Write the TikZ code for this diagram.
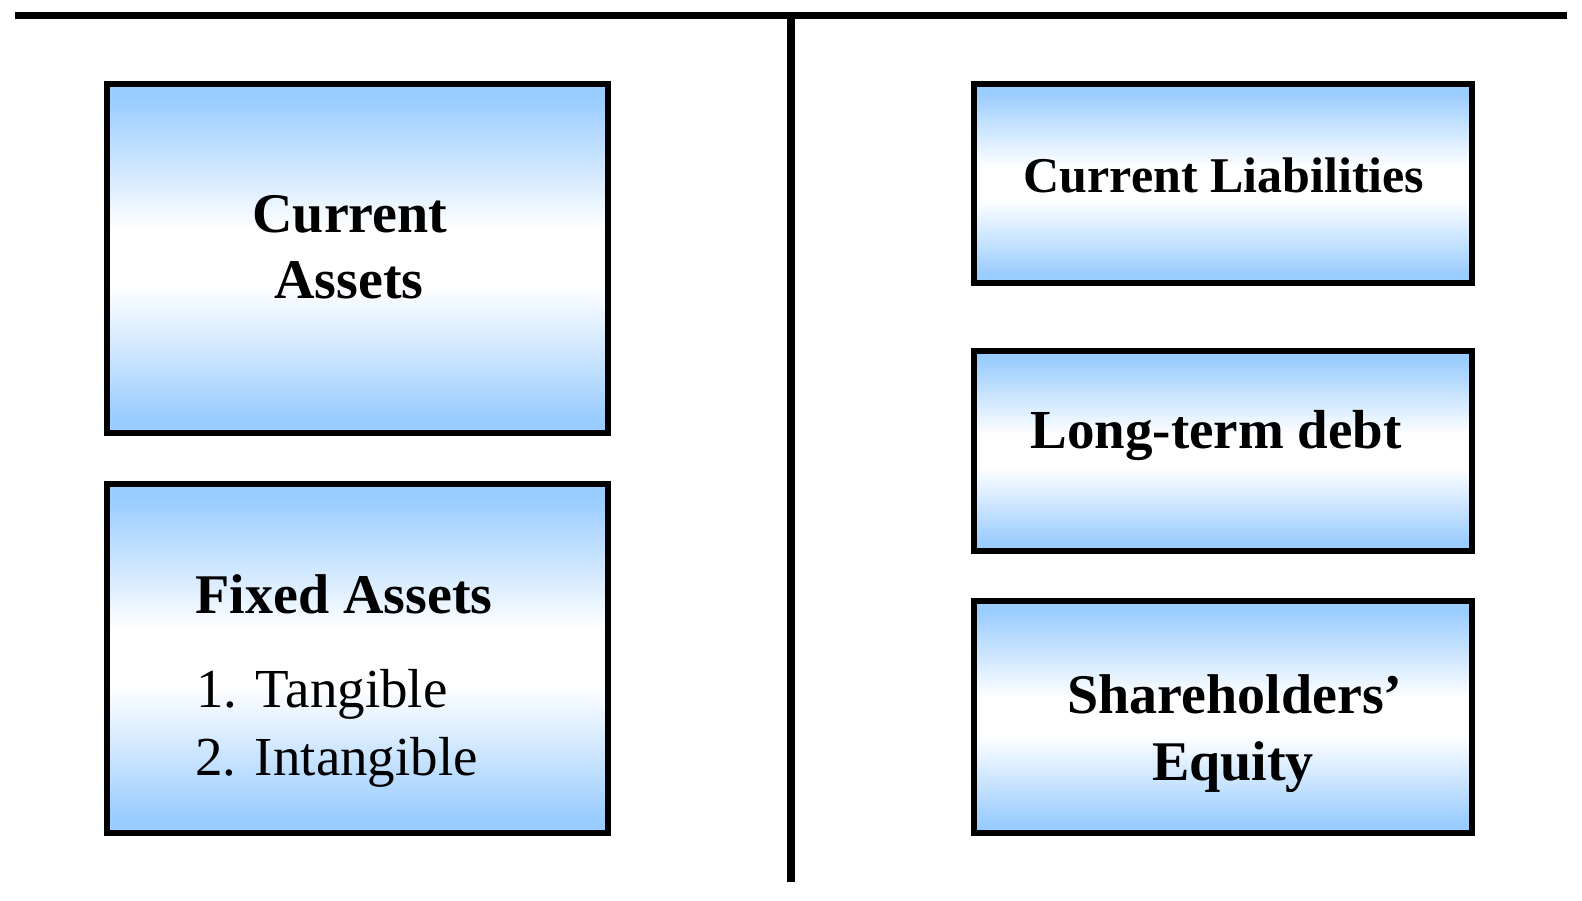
\documentclass[tikz,border=0pt]{standalone}
\usepackage{fontspec}
\setmainfont{Liberation Serif}
\definecolor{boxblue}{RGB}{153,204,255}
\pgfdeclareverticalshading{acctshade}{100bp}{color(0bp)=(boxblue); color(25bp)=(boxblue); color(27bp)=(boxblue); color(46bp)=(white); color(54bp)=(white); color(73bp)=(boxblue); color(75bp)=(boxblue); color(100bp)=(boxblue)}
\begin{document}
\begin{tikzpicture}[x=0.5pt,y=-0.5pt,
  acct/.style={draw=black,line width=3pt,shading=acctshade,inner sep=0pt,outer sep=0pt},
  ttl/.style={inner sep=0pt,anchor=base,font=\bfseries\fontsize{28}{33}\selectfont},
  ttlsmall/.style={inner sep=0pt,anchor=base,font=\bfseries\fontsize{25}{30}\selectfont},
  item/.style={inner sep=0pt,anchor=base west,font=\fontsize{27.5}{33}\selectfont},
  rule/.style={line width=3.5pt}]
\useasboundingbox (0,0) rectangle (1582,900);
% T-account rules
\coordinate (tl) at (15,15.5);
\coordinate (tr) at (1567,15.5);
\coordinate (vt) at (791,15.5);
\coordinate (vb) at (791,882);
\draw[rule] (tl) -- (tr);
\draw[line width=4pt] (vt) -- (vb);
% boxes
\node[acct,minimum width=250.5pt,minimum height=174.5pt] (ca) at (357.5,258.5) {};
\node[acct,minimum width=250.5pt,minimum height=174.5pt] (fa) at (357.5,658.5) {};
\node[acct,minimum width=249pt,minimum height=99.5pt] (cl) at (1223,183.5) {};
\node[acct,minimum width=249pt,minimum height=100pt] (ltd) at (1223,451) {};
\node[acct,minimum width=249pt,minimum height=116pt] (se) at (1223,717) {};
% texts
\node[ttl] (ca1) at (350,232) {Current};
\node[ttl] (ca2) at (349,298) {Assets};
\node[ttl,anchor=base west] (fa1) at (195,613) {Fixed Assets};
\node[item] (fa2) at (196,707) {1. Tangible};
\node[item] (fa3) at (195,775) {2. Intangible};
\node[ttlsmall] (cl1) at (1224,192) {Current Liabilities};
\node[ttl,font=\bfseries\fontsize{27.5}{33}\selectfont] (ltd1) at (1216,448) {Long-term debt};
\node[ttl] (se1) at (1235,713) {Shareholders’};
\node[ttl] (se2) at (1233,780) {Equity};
\end{tikzpicture}
\end{document}
